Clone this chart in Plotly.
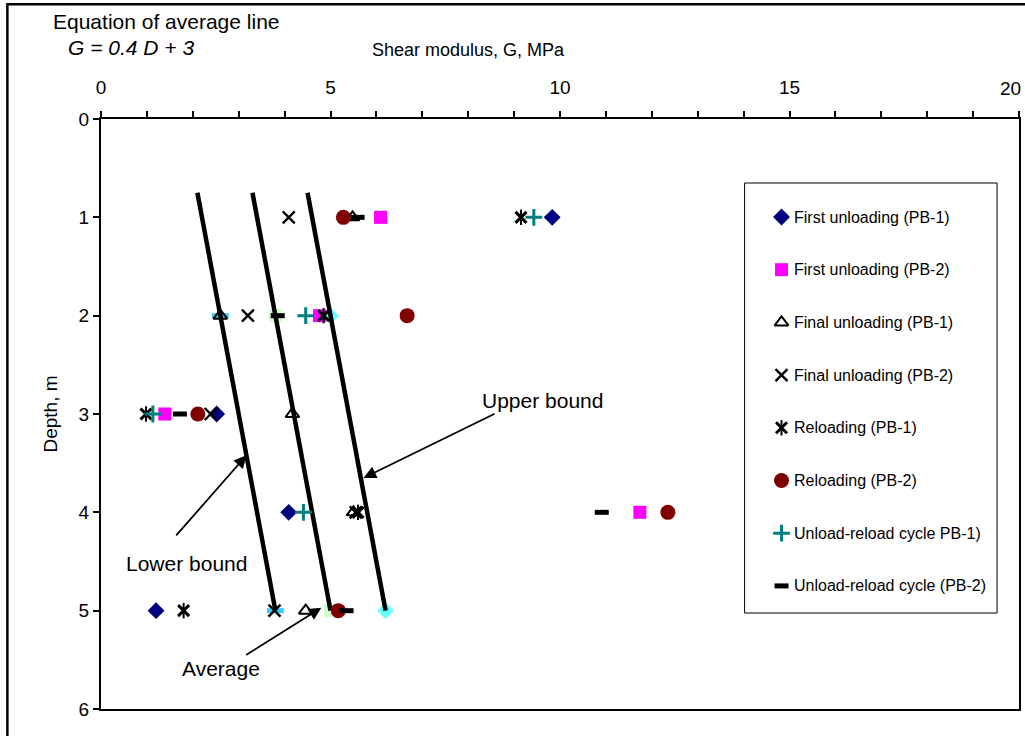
import plotly.graph_objects as go

# Shear modulus G (MPa) at each test depth (m); None where no reading
depths = [1, 2, 3, 4, 5]

first_unloading_pb1 = [9.83, None, 2.52, 4.09, 1.20]
first_unloading_pb2 = [6.09, 4.76, 1.39, 11.74, None]
final_unloading_pb1 = [5.48, 2.60, 4.17, 5.50, 4.46]
final_unloading_pb2 = [4.09, 3.20, 2.39, 5.55, 3.78]
reloading_pb1 = [9.15, 4.85, 0.98, 5.60, 1.80]
reloading_pb2 = [5.28, 6.67, 2.11, 12.35, 5.17]
unload_reload_pb1 = [9.43, 4.46, 1.13, 4.41, None]
unload_reload_pb2 = [5.59, 3.85, 1.72, 10.91, 5.35]

series_names = [
    "First unloading (PB-1)",
    "First unloading (PB-2)",
    "Final unloading (PB-1)",
    "Final unloading (PB-2)",
    "Reloading (PB-1)",
    "Reloading (PB-2)",
    "Unload-reload cycle PB-1)",
    "Unload-reload cycle (PB-2)",
]
series_values = [
    first_unloading_pb1, first_unloading_pb2, final_unloading_pb1, final_unloading_pb2,
    reloading_pb1, reloading_pb2, unload_reload_pb1, unload_reload_pb2,
]

# Average line G = 0.4 D + 3, bounds at +/- 1.2 MPa
slope, intercept, spread = 0.4, 3.0, 1.2
line_depths = [0.75, 5.0]
bound_marker_depths = [2, 5]

x_ticks = [0, 5, 10, 15, 20]
y_ticks = [0, 1, 2, 3, 4, 5, 6]


def g_line(d, offset=0.0):
    return slope * d + intercept + offset


FONT = "Liberation Sans, Arial, sans-serif"

# Marker styles; each entry is a list of layered markers drawn for the series
styles = [
    [dict(symbol="diamond", size=13, color="#000080")],
    [dict(symbol="square", size=13, color="#FF00FF")],
    [dict(symbol="triangle-up-open", size=12, color="black", line=dict(width=2))],
    [dict(symbol="x-thin-open", size=12, color="black", line=dict(width=2.4))],
    [dict(symbol="x-thin-open", size=11, color="black", line=dict(width=3)),
     dict(symbol="line-ns-open", size=11, color="black", line=dict(width=2))],
    [dict(symbol="circle", size=15, color="#800000")],
    [dict(symbol="cross-thin-open", size=12, color="#008080", line=dict(width=3))],
    [dict(symbol="line-ew-open", size=10, color="black", line=dict(width=5))],
]

fig = go.Figure()

# Bound and average lines with their markers
bounds = [
    ("Lower bound", -spread, dict(symbol="line-ew-open", size=12, color="#33CCFF", line=dict(width=5))),
    ("Average", 0.0, dict(symbol="square", size=13, color="#CCFFCC")),
    ("Upper bound", spread, dict(symbol="diamond", size=13, color="#66FFFF")),
]
for name, off, mk in bounds:
    fig.add_trace(go.Scatter(
        x=[g_line(d, off) for d in bound_marker_depths], y=bound_marker_depths,
        mode="markers", marker=mk, showlegend=False, name=name + " marks"))
    fig.add_trace(go.Scatter(
        x=[g_line(d, off) for d in line_depths], y=line_depths,
        mode="lines", line=dict(color="black", width=4.5), showlegend=False, name=name))

for name, vals, layers in zip(series_names, series_values, styles):
    for mk in layers:
        fig.add_trace(go.Scatter(x=vals, y=depths, mode="markers", name=name,
                                 marker=mk, showlegend=False))

# Legend drawn on an overlay axis measured in pixels of the plot area
PX_L, PX_R, PX_T, PX_B = 101, 1021, 119, 709
leg_box = dict(x0=746, x1=999, y0=183, y1=613)
leg_first_y, leg_step, leg_marker_x, leg_text_x = 217, 52.7, 783, 793
for i, (name, layers) in enumerate(zip(series_names, styles)):
    yy = leg_first_y + i * leg_step
    for mk in layers:
        fig.add_trace(go.Scatter(x=[leg_marker_x], y=[yy], xaxis="x2", yaxis="y2",
                                 mode="markers", marker=mk, showlegend=False,
                                 hoverinfo="skip", name=name))
    fig.add_annotation(x=leg_text_x, y=yy, xref="x2", yref="y2", xanchor="left",
                       yanchor="middle", text=name, showarrow=False,
                       font=dict(family=FONT, size=16, color="black"))
fig.add_shape(type="rect", xref="x2", yref="y2", layer="below",
              line=dict(color="black", width=1), fillcolor="white", **leg_box)

# Pointer labels for the three lines
pointers = [
    ("Upper bound", 9.61, 2.86, 8.61, 2.99, 5.72, 3.65),
    ("Lower bound", 1.87, 4.52, 1.61, 4.25, 3.17, 3.42),
    ("Average", 2.61, 5.59, 3.13, 5.46, 4.80, 4.97),
]
for label, tx, ty, x0, y0, x1, y1 in pointers:
    fig.add_annotation(x=tx, y=ty, xref="x", yref="y", text=label, showarrow=False,
                       font=dict(family=FONT, size=21, color="black"))
    fig.add_annotation(x=x1, y=y1, ax=x0, ay=y0, xref="x", yref="y", axref="x", ayref="y",
                       text="", showarrow=True, arrowhead=2, arrowsize=1.4, arrowwidth=1.8,
                       arrowcolor="black")

fig.add_annotation(x=-0.054, y=1.166, xref="paper", yref="paper", xanchor="left", yanchor="middle",
                   text="Equation of average line", showarrow=False,
                   font=dict(family=FONT, size=21, color="black"))
fig.add_annotation(x=-0.038, y=1.122, xref="paper", yref="paper", xanchor="left", yanchor="middle",
                   text="<i>G = 0.4 D + 3</i>", showarrow=False,
                   font=dict(family=FONT, size=21, color="black"))
fig.add_annotation(x=0.4, y=1.117, xref="paper", yref="paper", xanchor="center", yanchor="middle",
                   text="Shear modulus, G, MPa", showarrow=False,
                   font=dict(family=FONT, size=18, color="black"))
# Last x tick label sits at the right page edge; keep it inside the page
fig.add_annotation(x=1.0043, y=1.051, xref="paper", yref="paper", xanchor="right", yanchor="middle",
                   text=str(x_ticks[-1]), showarrow=False,
                   font=dict(family=FONT, size=19, color="black"))

# Outer chart frame
fig.add_shape(type="rect", xref="paper", yref="paper", x0=-0.102, x1=1.2, y0=-0.2, y1=1.1945,
              line=dict(color="black", width=2.5), layer="below")

fig.update_layout(
    width=1025, height=736,
    margin=dict(l=101, r=4, t=119, b=27),
    paper_bgcolor="white", plot_bgcolor="white",
    showlegend=False,
    xaxis=dict(
        range=[0, 20], side="top", tickvals=x_ticks[:-1], ticks="outside", ticklen=6,
        tickwidth=1.5, tickcolor="black", ticklabelstandoff=9,
        minor=dict(dtick=1, ticks="outside", ticklen=6, tickwidth=1.5, tickcolor="black"),
        showline=True, linecolor="black", linewidth=2, mirror=True, showgrid=False,
        zeroline=False, tickfont=dict(family=FONT, size=19, color="black")),
    yaxis=dict(
        range=[6, 0], tickvals=y_ticks, ticks="outside", ticklen=6, tickwidth=1.5,
        tickcolor="black", showline=True, linecolor="black", linewidth=2, mirror=True,
        showgrid=False, zeroline=False, tickfont=dict(family=FONT, size=19, color="black"),
        title=dict(text="Depth, m", font=dict(family=FONT, size=19, color="black"), standoff=16)),
    xaxis2=dict(overlaying="x", anchor="y2", range=[PX_L, PX_R], visible=False),
    yaxis2=dict(overlaying="y", anchor="x2", range=[PX_B, PX_T], visible=False),
)

fig.write_html("out.html")
